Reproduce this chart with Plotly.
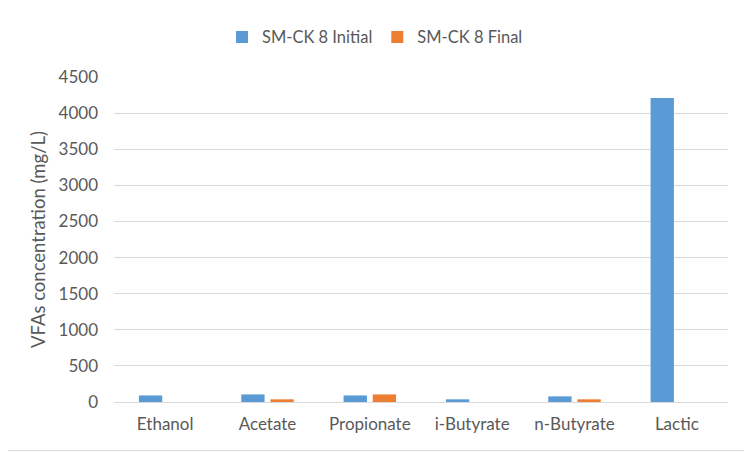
import plotly.graph_objects as go

# VFAs concentration data (mg/L)
acids = ["Ethanol", "Acetate", "Propionate", "i-Butyrate", "n-Butyrate", "Lactic"]
initial_vals = [91, 105, 91, 37, 78, 4210]
final_vals = [0, 37, 105, 0, 37, 0]

series_names = ["SM-CK 8 Initial", "SM-CK 8 Final"]
y_ticks = [0, 500, 1000, 1500, 2000, 2500, 3000, 3500, 4000, 4500]

text_col = "#595959"
grid_col = "#d9d9d9"
font_name = "Lato"

# the page puts the figure 8px in from the top-left corner, so the figure
# is built 8px smaller and all positions are measured from there
W, H = 744, 444
L, R, T, B = 106, 24, 63, 50
pw, ph = W - L - R, H - T - B

fig = go.Figure()
fig.add_trace(go.Bar(x=acids, y=initial_vals, name=series_names[0],
                     marker=dict(color="#5B9BD5", line=dict(width=0))))
fig.add_trace(go.Bar(x=acids, y=final_vals, name=series_names[1],
                     marker=dict(color="#ED7D31", line=dict(width=0))))

# light grey chart border (right and bottom edges)
fig.add_shape(type="line", xref="paper", yref="paper",
              x0=(742.5 - L) / pw, x1=(742.5 - L) / pw,
              y0=(H - B - 443.5) / ph, y1=(H - B) / ph + T / ph,
              line=dict(color=grid_col, width=1))
fig.add_shape(type="line", xref="paper", yref="paper",
              x0=-L / pw, x1=(742.5 - L) / pw,
              y0=(H - B - 443.5) / ph, y1=(H - B - 443.5) / ph,
              line=dict(color=grid_col, width=1))

fig.update_layout(
    width=W, height=H,
    margin=dict(l=L, r=R, t=T, b=B),
    paper_bgcolor="white", plot_bgcolor="white",
    font=dict(family=font_name, size=17, color=text_col),
    barmode="group", bargap=0.43, bargroupgap=0.2,
    showlegend=True,
    legend=dict(orientation="h", x=(367 - L) / pw, xanchor="center",
                y=(H - B - 22.5) / ph, yanchor="middle",
                font=dict(family=font_name, size=16.5, color=text_col),
                itemwidth=30, traceorder="normal"),
)
fig.update_xaxes(showgrid=False, showline=False, ticks="",
                 tickfont=dict(size=17, color=text_col), ticklabelstandoff=10)
fig.update_yaxes(range=[0, 4500], tickvals=y_ticks, showgrid=True,
                 gridcolor=grid_col, gridwidth=1, zeroline=True,
                 zerolinecolor=grid_col, zerolinewidth=1, showline=False,
                 tickfont=dict(size=17, color=text_col), ticklabelstandoff=15,
                 title=dict(text="VFAs concentration (mg/L)", standoff=8,
                            font=dict(size=18.5, color=text_col)))

fig.write_html("out.html")
